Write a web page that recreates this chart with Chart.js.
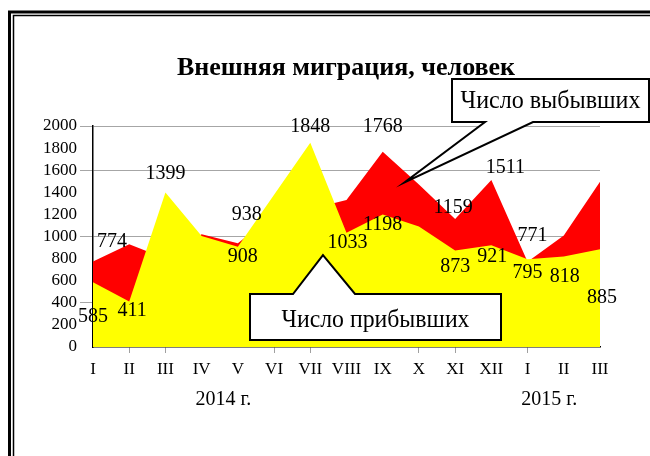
<!DOCTYPE html>
<html>
<head>
<meta charset="utf-8">
<script src="https://cdn.jsdelivr.net/npm/chart.js@4.4.1/dist/chart.umd.min.js"></script>
<style>
    html, body { margin: 0; padding: 0; background: #fff; }
    canvas { display: block; }
</style>
</head>
<body>
<canvas id="chart" width="650" height="456"></canvas>
<script>
// Months, Jan 2014 .. Mar 2015
const months = ['I', 'II', 'III', 'IV', 'V', 'VI', 'VII', 'VIII', 'IX', 'X', 'XI', 'XII', 'I', 'II', 'III'];
const arrived = [585, 411, 1399, 1005, 908, 1378, 1848, 1033, 1198, 1090, 873, 921, 795, 818, 885];
const departed = [774, 930, 800, 1020, 938, 1200, 1250, 1330, 1768, 1470, 1159, 1511, 771, 1010, 1495];
const yearLabels = ['2014 г.', '2015 г.'];

// Which points carry a value label (null = no label) and where it sits, dx/dy in px
const arrivedLabelPos = [[0, 34], [3, 9], [0, -19], null, [5, 10], null, [0, -16], [1, 10], [0, 10], null, [0, 16], [1, 12], [0, 14], [1, 20], [2, 49]];
const departedLabelPos = [[19, -20], null, null, null, [9, -29], null, null, null, [0, -25], null, [-2, -11], [14, -12], [5, -26], null, null];

const SERIF = '"Liberation Serif", "Times New Roman", serif';
const gridValues = [400, 1000, 1600, 2000];
const xTickMarks = [1, 2, 5, 6, 9, 10, 12];

const decorPlugin = {
    id: 'decor',
    beforeDraw(chart) {
        const ctx = chart.ctx;
        ctx.save();
        ctx.fillStyle = '#fff';
        ctx.fillRect(0, 0, chart.width, chart.height);
        // double frame (left and top)
        ctx.strokeStyle = '#000';
        ctx.lineWidth = 3;
        ctx.beginPath();
        ctx.moveTo(9.5, chart.height);
        ctx.lineTo(9.5, 12);
        ctx.lineTo(chart.width, 12);
        ctx.stroke();
        ctx.lineWidth = 1.5;
        ctx.beginPath();
        ctx.moveTo(13.5, chart.height);
        ctx.lineTo(13.5, 15.5);
        ctx.lineTo(chart.width, 15.5);
        ctx.stroke();
        ctx.restore();
    },
    afterDatasetsDraw(chart) {
        const ctx = chart.ctx;
        ctx.save();
        ctx.fillStyle = '#000';
        ctx.font = `20px ${SERIF}`;
        ctx.textAlign = 'center';
        ctx.textBaseline = 'middle';
        const drawLabels = (dsIndex, values, pos) => {
            const meta = chart.getDatasetMeta(dsIndex);
            meta.data.forEach((pt, i) => {
                if (!pos[i]) return;
                ctx.fillText(String(values[i]), pt.x + pos[i][0], pt.y + pos[i][1]);
            });
        };
        drawLabels(0, arrived, arrivedLabelPos);
        drawLabels(1, departed, departedLabelPos);
        ctx.restore();
    },
    afterDraw(chart) {
        const ctx = chart.ctx;
        const x = chart.scales.x;
        const y = chart.scales.y;
        ctx.save();

        // title
        ctx.fillStyle = '#000';
        ctx.font = `bold 26px ${SERIF}`;
        ctx.textAlign = 'center';
        ctx.textBaseline = 'alphabetic';
        ctx.fillText('Внешняя миграция, человек', 346, 75, 345);

        // year captions under the month ticks
        ctx.font = `20px ${SERIF}`;
        ctx.textBaseline = 'middle';
        ctx.fillText(yearLabels[0], x.getPixelForValue(3.6), 400);
        ctx.fillText(yearLabels[1], x.getPixelForValue(12.6), 400);

        // callouts: box [x1, y1, x2, y2], pointer base xs, pointer tip
        const callout = (box, base, tip, text, textY, maxW) => {
            const [x1, y1, x2, y2] = box;
            ctx.beginPath();
            if (tip[1] > y2) {
                ctx.moveTo(x1, y1);
                ctx.lineTo(x2, y1);
                ctx.lineTo(x2, y2);
                ctx.lineTo(base[1], y2);
                ctx.lineTo(tip[0], tip[1]);
                ctx.lineTo(base[0], y2);
                ctx.lineTo(x1, y2);
            } else {
                ctx.moveTo(x1, y1);
                ctx.lineTo(base[0], y1);
                ctx.lineTo(tip[0], tip[1]);
                ctx.lineTo(base[1], y1);
                ctx.lineTo(x2, y1);
                ctx.lineTo(x2, y2);
                ctx.lineTo(x1, y2);
            }
            ctx.closePath();
            ctx.fillStyle = '#fff';
            ctx.fill();
            ctx.strokeStyle = '#000';
            ctx.lineWidth = 2;
            ctx.lineJoin = 'miter';
            ctx.stroke();
            ctx.fillStyle = '#000';
            ctx.font = `25px ${SERIF}`;
            ctx.textAlign = 'center';
            ctx.textBaseline = 'middle';
            ctx.fillText(text, (x1 + x2) / 2, textY, maxW);
        };
        callout([452, 79, 649, 122], [485, 533],
            [x.getPixelForValue(8.6), y.getPixelForValue(1490)], 'Число выбывших', 101, 180);
        callout([250, 294, 501, 340], [293, 355],
            [x.getPixelForValue(6.35), y.getPixelForValue(832)], 'Число прибывших', 320, 188);

        ctx.restore();
    },
};

new Chart(document.getElementById('chart'), {
    type: 'line',
    data: {
        labels: months,
        datasets: [
            {
                label: 'Число прибывших',
                data: arrived,
                backgroundColor: '#ffff00',
                borderWidth: 0,
                borderColor: 'rgba(0,0,0,0)',
                fill: 'origin',
                pointRadius: 0,
                tension: 0,
            },
            {
                label: 'Число выбывших',
                data: departed,
                backgroundColor: '#ff0000',
                borderWidth: 0,
                borderColor: 'rgba(0,0,0,0)',
                fill: 'origin',
                pointRadius: 0,
                tension: 0,
            },
        ],
    },
    options: {
        responsive: false,
        animation: false,
        layout: { padding: { left: 0, right: 50, top: 126, bottom: 0 } },
        plugins: {
            legend: { display: false },
            title: { display: false },
            tooltip: { enabled: false },
        },
        scales: {
            x: {
                offset: false,
                afterFit: (s) => { s.height = 109; },
                border: { display: true, color: '#000', width: 1.5 },
                grid: {
                    drawOnChartArea: false,
                    drawTicks: true,
                    tickLength: 6,
                    color: (c) => (xTickMarks.includes(c.index) ? '#a0a0a0' : 'rgba(0,0,0,0)'),
                },
                ticks: {
                    autoSkip: false,
                    maxRotation: 0,
                    padding: 6,
                    color: '#000',
                    font: { family: SERIF, size: 17 },
                },
            },
            y: {
                min: 0,
                max: 2000,
                afterFit: (s) => { s.width = 93; },
                border: { display: true, color: '#000', width: 1.5 },
                grid: {
                    drawTicks: true,
                    tickLength: 13,
                    color: (c) => (c.tick && gridValues.includes(c.tick.value) ? '#a6a6a6' : 'rgba(0,0,0,0)'),
                },
                ticks: {
                    stepSize: 200,
                    autoSkip: false,
                    padding: 3,
                    color: '#000',
                    font: { family: SERIF, size: 17 },
                    callback: (v) => String(v),
                },
            },
        },
    },
    plugins: [decorPlugin],
});
</script>
</body>
</html>
